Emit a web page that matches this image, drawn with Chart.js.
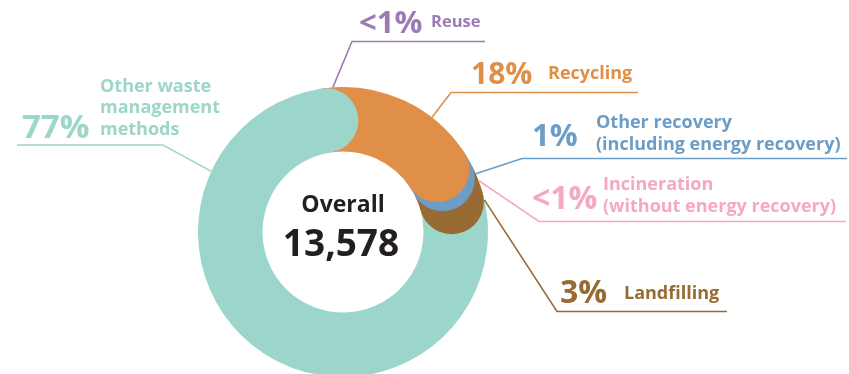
<!DOCTYPE html>
<html>
<head>
<meta charset="utf-8">
<title>Waste treatment breakdown</title>
<script src="https://cdn.jsdelivr.net/npm/chart.js@4.4.1/dist/chart.umd.min.js"></script>
<style>
  html, body { margin: 0; padding: 0; background: #ffffff; overflow: hidden; }
  #wrap { width: 849px; height: 374px; overflow: hidden; }
</style>
</head>
<body>
<div id="wrap"><canvas id="wasteChart" width="849" height="380"></canvas></div>
<script>
// slices go clockwise from the top
const categories = [
  "Reuse",
  "Recycling",
  "Other recovery (including energy recovery)",
  "Incineration (without energy recovery)",
  "Landfilling",
  "Other waste management methods"
];
const shares = [0.3, 17.8, 1.49, 0.3, 3.2, 76.91];
const shareLabels = ["<1%", "18%", "1%", "<1%", "3%", "77%"];
const nameLines = [
  ["Reuse"],
  ["Recycling"],
  ["Other recovery", "(including energy recovery)"],
  ["Incineration", "(without energy recovery)"],
  ["Landfilling"],
  ["Other waste", "management", "methods"]
];
const colours = ["#9c7bb5", "#e08f48", "#6b9dc6", "#f5a8c1", "#996b34", "#9cd6ca"];
const centreTitle = "Overall";
const centreTotal = 13578;

// where each callout sits: leader leaves the ring at `angle` (deg from top),
// bends at `elbow`, runs flat to `endX`
const callouts = [
  { angle: -4,    elbow: [352, 41.5],  endX: 485, valueAt: [359, 33],  valueSize: 31, nameAt: [431, 27],  nameSize: 16.5, lineGap: 22 },
  { angle: 37.8,  elbow: [451, 92.5],  endX: 638, valueAt: [471, 84],  valueSize: 30, nameAt: [548, 79],  nameSize: 18, lineGap: 22 },
  { angle: 66.3,  elbow: [522, 158.5], endX: 847, valueAt: [532, 146], valueSize: 31, nameAt: [596, 128], nameSize: 18, lineGap: 21.5 },
  { angle: 69.2,  elbow: [539, 221.5], endX: 846, valueAt: [532, 209], valueSize: 32, nameAt: [603, 190], nameSize: 18, lineGap: 21.5 },
  { angle: 77.2,  elbow: [557, 311.5], endX: 727, valueAt: [560, 303], valueSize: 32, nameAt: [624, 299], nameSize: 18, lineGap: 22 },
  { angle: 294.7, elbow: [163, 145],   endX: 17,  valueAt: [22, 138],  valueSize: 33, nameAt: [100, 91.5], nameSize: 18, lineGap: 21.7 }
];

const FONT = "'Open Sans', 'Noto Sans', sans-serif";

// rounded ends: each visible slice gets a disc at its clockwise end,
// later slices first so the earlier cap lies on top
const roundEnds = {
  id: "roundEnds",
  afterDatasetsDraw(chart) {
    const arcs = chart.getDatasetMeta(0).data;
    const ctx = chart.ctx;
    ctx.save();
    for (let i = arcs.length - 1; i >= 0; i--) {
      if (shares[i] < 1) continue;
      const a = arcs[i];
      const mid = (a.innerRadius + a.outerRadius) / 2;
      const half = (a.outerRadius - a.innerRadius) / 2;
      ctx.fillStyle = colours[i];
      ctx.beginPath();
      ctx.arc(a.x + mid * Math.cos(a.endAngle), a.y + mid * Math.sin(a.endAngle), half, 0, Math.PI * 2);
      ctx.fill();
    }
    ctx.restore();
  }
};

const calloutLabels = {
  id: "calloutLabels",
  afterDraw(chart) {
    const ctx = chart.ctx;
    const arcs = chart.getDatasetMeta(0).data;
    const cx = arcs[0].x, cy = arcs[0].y, r = arcs[0].outerRadius;
    ctx.save();
    ctx.textBaseline = "alphabetic";
    ctx.textAlign = "left";
    callouts.forEach((c, i) => {
      const rad = c.angle * Math.PI / 180;
      ctx.strokeStyle = colours[i];
      ctx.lineWidth = 1.6;
      ctx.beginPath();
      ctx.moveTo(cx + r * Math.sin(rad), cy - r * Math.cos(rad));
      ctx.lineTo(c.elbow[0], c.elbow[1]);
      ctx.lineTo(c.endX, c.elbow[1]);
      ctx.stroke();

      ctx.fillStyle = colours[i];
      ctx.font = `700 ${c.valueSize}px ${FONT}`;
      ctx.fillText(shareLabels[i], c.valueAt[0], c.valueAt[1]);
      ctx.font = `700 ${c.nameSize}px ${FONT}`;
      nameLines[i].forEach((line, k) => {
        ctx.fillText(line, c.nameAt[0], c.nameAt[1] + k * c.lineGap);
      });
    });

    // total in the hole
    ctx.fillStyle = "#231f20";
    ctx.textAlign = "center";
    ctx.font = `700 23px ${FONT}`;
    ctx.fillText(centreTitle, cx, 211.5);
    ctx.font = `700 37px ${FONT}`;
    ctx.fillText(centreTotal.toLocaleString("en-US"), cx - 2, 256);
    ctx.restore();
  }
};

new Chart(document.getElementById("wasteChart"), {
  type: "doughnut",
  data: {
    labels: categories,
    datasets: [{
      data: shares,
      backgroundColor: colours,
      borderWidth: 0,
      hoverOffset: 0
    }]
  },
  options: {
    responsive: false,
    animation: false,
    events: [],
    rotation: -8.6,
    radius: 145,
    cutout: 80.5,
    layout: { padding: { left: 198, right: 361, top: 87, bottom: 3 } },
    plugins: {
      legend: { display: false },
      tooltip: { enabled: false }
    }
  },
  plugins: [roundEnds, calloutLabels]
});
</script>
</body>
</html>
